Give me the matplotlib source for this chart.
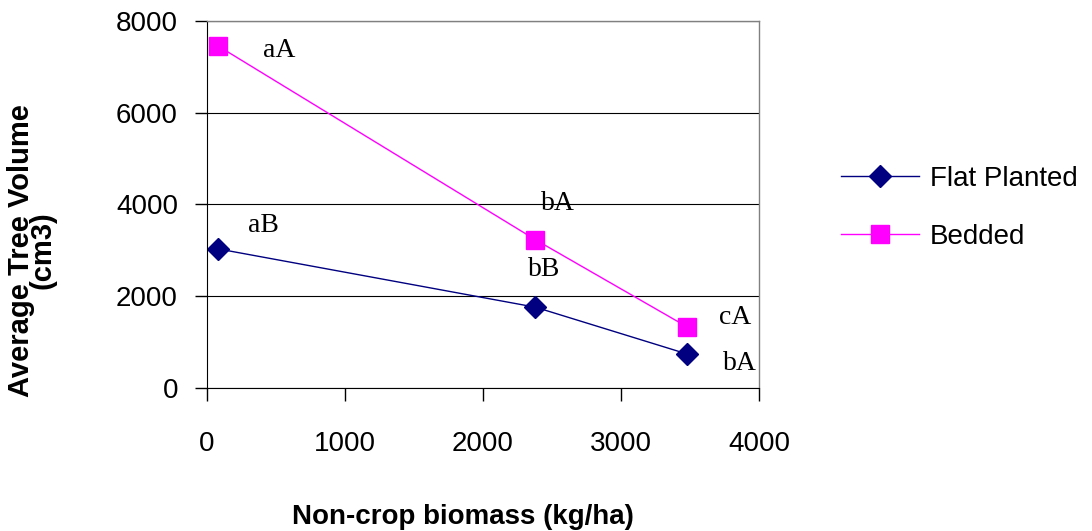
import matplotlib.pyplot as plt

biomass = [80, 2380, 3480]
flat_planted = [3030, 1760, 740]
bedded = [7450, 3230, 1330]
flat_letters = ["aB", "bB", "bA"]
bedded_letters = ["aA", "bA", "cA"]

plt.rcParams["font.family"] = ["Liberation Sans", "DejaVu Sans"]

fig = plt.figure(figsize=(10.92, 5.31), dpi=100)
ax = fig.add_axes([0.1896, 0.2693, 0.5054, 0.6917])

ax.plot(biomass, flat_planted, color="#000080", lw=1, marker="D", ms=11,
        label="Flat Planted")
ax.plot(biomass, bedded, color="#FF00FF", lw=1, marker="s", ms=13,
        label="Bedded")

# letter annotations (offset from each point)
txt = dict(family="Liberation Serif", fontsize=20, color="black", ha="center", va="center")
ax.text(biomass[0] + 440, bedded[0] - 100, bedded_letters[0], **txt)
ax.text(biomass[1] + 160, bedded[1] + 790, bedded_letters[1], **txt)
ax.text(biomass[2] + 350, bedded[2] + 210, bedded_letters[2], **txt)
ax.text(biomass[0] + 330, flat_planted[0] + 510, flat_letters[0], **txt)
ax.text(biomass[1] + 60, flat_planted[1] + 830, flat_letters[1], **txt)
ax.text(biomass[2] + 380, flat_planted[2] - 200, flat_letters[2], **txt)

ax.set_xlim(0, 4000)
ax.set_ylim(0, 8000)
ax.set_xticks([0, 1000, 2000, 3000, 4000])
ax.set_yticks([0, 2000, 4000, 6000, 8000])
ax.tick_params(axis="both", direction="out", length=9, width=1, labelsize=20)
ax.tick_params(axis="y", pad=12)
ax.tick_params(axis="x", pad=22)
ax.yaxis.grid(True, color="black", lw=0.8)
ax.set_axisbelow(True)

for side in ["top", "right"]:
    ax.spines[side].set_color("#808080")
    ax.spines[side].set_linewidth(1)
for side in ["left", "bottom"]:
    ax.spines[side].set_color("black")

ax.set_xlabel("Non-crop biomass (kg/ha)", fontsize=20, fontweight="bold", va="center")
ax.xaxis.set_label_coords(0.464, -0.35)
ax.set_ylabel("Average Tree Volume\n(cm3)", fontsize=21, fontweight="bold",
              linespacing=0.72, va="center", ha="center")
ax.yaxis.set_label_coords(-0.318, 0.375)

ax.legend(loc="center left", bbox_to_anchor=(1.103, 0.49), frameon=False,
          fontsize=20, handlelength=2.8, labelspacing=1.15, handletextpad=0.4)

fig.savefig("out.png", dpi=100)
